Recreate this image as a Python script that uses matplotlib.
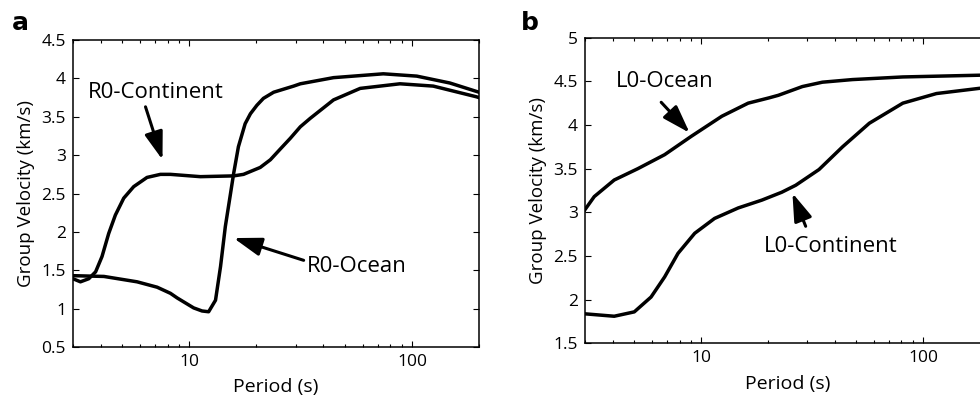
import numpy as np
import matplotlib
matplotlib.use('Agg')
import matplotlib.pyplot as plt
from matplotlib.ticker import FuncFormatter, LogLocator, NullFormatter

plt.rcParams['font.family'] = ['Open Sans', 'DejaVu Sans']

# panel a: Rayleigh fundamental mode
r0_cont_period = [3.0, 3.24, 3.53, 3.79, 4.05, 4.34, 4.65, 5.07, 5.62, 6.45, 7.41, 8.22,
                  11.2, 15.8, 17.5, 20.8, 23.1, 25.6, 28.4, 31.5, 34.9, 44.4, 58.5,
                  88.3, 124.5, 195, 200]
r0_cont_vel = [1.39, 1.35, 1.39, 1.48, 1.68, 1.98, 2.22, 2.44, 2.59, 2.71, 2.75, 2.75,
               2.72, 2.73, 2.75, 2.84, 2.94, 3.08, 3.22, 3.37, 3.48, 3.72, 3.87,
               3.93, 3.90, 3.76, 3.75]
r0_ocean_period = [3.0, 4.13, 5.82, 7.16, 8.22, 8.81, 10.45, 11.4, 12.2, 13.1, 13.8, 14.5,
                   15.3, 15.8, 16.6, 17.8, 18.8, 20.1, 21.5, 23.9, 26.5, 29.4, 31.5,
                   44.4, 74.3, 105, 148, 195, 200]
r0_ocean_vel = [1.43, 1.42, 1.35, 1.28, 1.20, 1.14, 1.01, 0.97, 0.96, 1.11, 1.55, 2.07,
                2.50, 2.76, 3.11, 3.41, 3.54, 3.65, 3.74, 3.82, 3.86, 3.90, 3.93,
                4.01, 4.06, 4.03, 3.94, 3.83, 3.82]

# panel b: Love fundamental mode
l0_ocean_period = [2.92, 3.30, 4.06, 5.19, 6.85, 9.03, 12.4, 16.3, 20.2, 22.3, 28.6,
                   35.2, 48.1, 81.1, 180, 200]
l0_ocean_vel = [2.99, 3.18, 3.37, 3.50, 3.66, 3.87, 4.10, 4.25, 4.31, 4.34, 4.44,
                4.49, 4.52, 4.55, 4.57, 4.57]
l0_cont_period = [2.92, 4.06, 5.0, 5.95, 6.85, 7.87, 9.36, 11.5, 14.7, 18.8, 23.1,
                  26.7, 34.0, 43.4, 57.3, 81.1, 115, 180, 200]
l0_cont_vel = [1.84, 1.81, 1.86, 2.03, 2.26, 2.53, 2.76, 2.93, 3.05, 3.14, 3.23,
               3.31, 3.49, 3.75, 4.02, 4.25, 4.36, 4.42, 4.43]


def style_axes(ax, ylim, yticks):
    ax.set_xscale('log')
    ax.set_xlim(3, 200)
    ax.set_ylim(*ylim)
    ax.set_yticks(yticks)
    ax.yaxis.set_major_formatter(FuncFormatter(lambda v, p: '%g' % v))
    ax.set_xticks([10, 100])
    ax.set_xticklabels(['10', '100'])
    ax.xaxis.set_minor_locator(LogLocator(base=10, subs=np.arange(2, 10)))
    ax.xaxis.set_minor_formatter(NullFormatter())
    ax.tick_params(which='both', direction='in', top=True, right=True, labelsize=12.5)
    ax.tick_params(which='major', length=4, width=0.8, pad=5)
    ax.tick_params(which='minor', length=2.5, width=0.8)
    for s in ax.spines.values():
        s.set_linewidth(1.1)
    ax.set_xlabel('Period (s)', fontsize=14, labelpad=6)
    ax.set_ylabel('Group Velocity (km/s)', fontsize=13.5, labelpad=5)


def arrow(ax, tail, head):
    ax.annotate('', xy=head, xytext=tail,
                arrowprops=dict(arrowstyle='-|>,head_length=0.85,head_width=0.28',
                                color='black', lw=2.2, mutation_scale=20,
                                shrinkA=0, shrinkB=0))


fig = plt.figure(figsize=(9.8, 3.98), dpi=100)
ax1 = fig.add_axes([0.0745, 0.128, 0.4143, 0.7714])
ax2 = fig.add_axes([0.597, 0.1374, 0.413, 0.768])

ax1.plot(r0_cont_period, r0_cont_vel, color='black', lw=2.5, solid_joinstyle='round')
ax1.plot(r0_ocean_period, r0_ocean_vel, color='black', lw=2.5, solid_joinstyle='round')
style_axes(ax1, (0.5, 4.5), [0.5, 1, 1.5, 2, 2.5, 3, 3.5, 4, 4.5])

ax1.text(7.05, 3.81, 'R0-Continent', fontsize=16, ha='center', va='center')
arrow(ax1, (6.35, 3.63), (7.57, 2.94))
ax1.text(56.5, 1.55, 'R0-Ocean', fontsize=16, ha='center', va='center')
arrow(ax1, (32.6, 1.63), (15.8, 1.92))

ax2.plot(l0_ocean_period, l0_ocean_vel, color='black', lw=2.5, solid_joinstyle='round')
ax2.plot(l0_cont_period, l0_cont_vel, color='black', lw=2.5, solid_joinstyle='round')
style_axes(ax2, (1.5, 5), [1.5, 2, 2.5, 3, 3.5, 4, 4.5, 5])

ax2.text(6.87, 4.50, 'L0-Ocean', fontsize=16, ha='center', va='center')
arrow(ax2, (6.61, 4.26), (8.88, 3.91))
ax2.text(38.5, 2.61, 'L0-Continent', fontsize=16, ha='center', va='center')
arrow(ax2, (29.6, 2.84), (25.8, 3.22))

fig.text(0.012, 0.925, 'a', fontsize=18, fontweight='bold', family='DejaVu Sans')
fig.text(0.532, 0.925, 'b', fontsize=18, fontweight='bold', family='DejaVu Sans')

fig.savefig('out.png', dpi=100)
